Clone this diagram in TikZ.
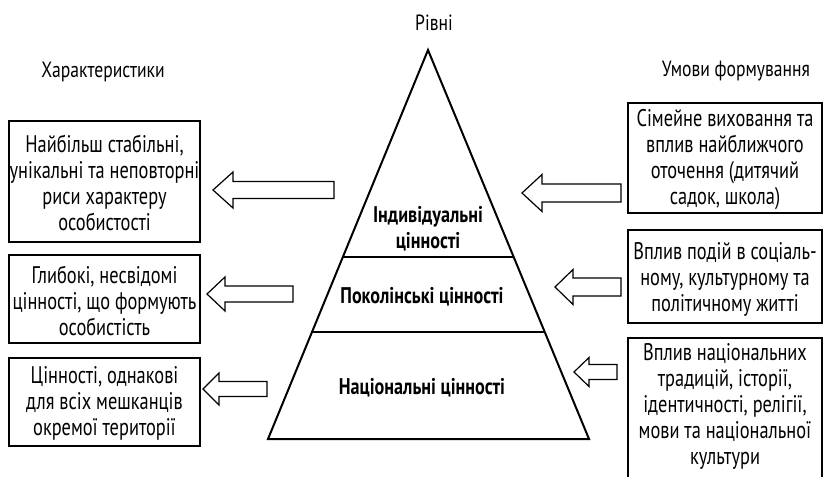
\documentclass[tikz,border=0pt]{standalone}
\usepackage{fontspec}
\setmainfont[FakeStretch=0.8]{PT Sans}
\newfontfamily\boxfont[FakeStretch=0.765]{PT Sans}
\usetikzlibrary{calc}

% block arrow pointing left: tip x, tip y, head base x, tail x, head half-height, shaft half-height
\newcommand{\leftblockarrow}[6]{%
  \draw[blockarrow] (#1,#2) -- (#3,#2-#5) -- (#3,#2-#6) -- (#4,#2-#6)
    -- (#4,#2+#6) -- (#3,#2+#6) -- (#3,#2+#5) -- cycle;}

\begin{document}
\begin{tikzpicture}[x=0.75pt,y=-0.75pt,
  box/.style={draw, line width=1.3pt, inner sep=0pt},
  boxtext/.style={align=center, font=\boxfont\fontsize{18}{19.5}\selectfont},
  header/.style={font=\fontsize{16.5}{19.5}\selectfont},
  level/.style={align=center, font=\fontsize{17}{19.5}\selectfont\bfseries},
  blockarrow/.style={draw, line width=0.9pt, fill=white, line join=miter},
  pyr/.style={line width=1.5pt, line join=miter}]
\useasboundingbox (0,0) rectangle (823,477);
\clip (0,0) rectangle (823,477);

% headers
\node[header] (hlevels) at (434,23) {Рівні};
\node[header] (hchar) at (103,72) {Характеристики};
\node[header] (hcond) at (736,71) {Умови формування};

% pyramid
\coordinate (apex) at (428,50);
\coordinate (bl) at (268,439);
\coordinate (br) at (589,439);
\draw[pyr] (apex) -- (br) -- (bl) -- cycle;
\draw[pyr] ($(apex)!0.532!(bl)$) -- ($(apex)!0.532!(br)$);
\draw[pyr] ($(apex)!0.725!(bl)$) -- ($(apex)!0.725!(br)$);
\node[level] (lind) at (428,229) {Індивідуальні\\цінності};
\node[level] (lgen) at (422,297) {Поколінські цінності};
\node[level] (lnat) at (422,388) {Національні цінності};

% characteristics (left)
\node[box, minimum width=143.25pt, minimum height=90.75pt] (c1) at (104.5,181.5) {};
\node[boxtext] (c1t) at (104.5,183) {Найбільш стабільні,\\унікальні та неповторні\\риси характеру\\особистості};
\node[box, minimum width=143.25pt, minimum height=66pt] (c2) at (104.5,299) {};
\node[boxtext] (c2t) at (104.5,301) {Глибокі, несвідомі\\цінності, що формують\\особистість};
\node[box, minimum width=143.25pt, minimum height=66pt] (c3) at (104.5,402) {};
\node[boxtext] (c3t) at (104.5,403) {Цінності, однакові\\для всіх мешканців\\окремої території};

% formation conditions (right)
\node[box, minimum width=145.5pt, minimum height=82.5pt] (f1) at (725,158) {};
\node[boxtext] (f1t) at (725,160) {Сімейне виховання та\\вплив найближчого\\оточення (дитячий\\садок, школа)};
\node[box, minimum width=145.5pt, minimum height=69.75pt] (f2) at (725,276.5) {};
\node[boxtext] (f2t) at (725,279) {Вплив подій в соціаль-\\ному, культурному та\\політичному житті};
\node[box, minimum width=145.5pt, minimum height=114pt] (f3) at (725,414) {};
\node[boxtext] (f3t) at (725,406) {Вплив національних\\традицій, історії,\\ідентичності, релігії,\\мови та національної\\культури};

% arrows
\leftblockarrow{213}{190}{233}{334}{18}{8.5}
\leftblockarrow{207}{294}{225}{293}{17}{8}
\leftblockarrow{203}{389}{219}{267}{16}{7.5}
\leftblockarrow{522}{193}{542}{621}{18.5}{9}
\leftblockarrow{555}{287}{573}{621}{17.5}{9}
\leftblockarrow{574}{372}{589}{617}{14.5}{7.5}
\end{tikzpicture}
\end{document}
